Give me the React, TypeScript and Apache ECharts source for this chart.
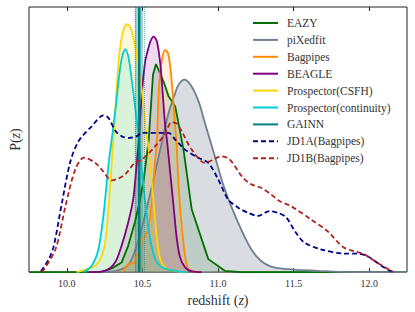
import React, { useEffect, useRef } from "react";
import * as echarts from "echarts";

const X_MIN = 9.75;
const X_MAX = 12.25;
const TICKS = [10.0, 10.5, 11.0, 11.5, 12.0];

const EAZY: number[][] = [
  [9.75, 0], [10.231, 0.001], [10.301, 0.015], [10.362, 0.036], [10.406, 0.099], [10.45, 0.187],
  [10.478, 0.256], [10.509, 0.35], [10.542, 0.5], [10.57, 0.744], [10.59, 0.785], [10.64, 0.719],
  [10.673, 0.663], [10.717, 0.625], [10.772, 0.462], [10.826, 0.237], [10.936, 0.049],
  [11.045, 0.005], [11.154, 0], [12.25, 0],
];

const PIXEDFIT: number[][] = [
  [10.236, 0], [10.334, 0.006], [10.411, 0.03], [10.476, 0.124], [10.542, 0.274], [10.608, 0.437],
  [10.673, 0.6], [10.717, 0.676], [10.739, 0.707], [10.778, 0.726], [10.813, 0.711], [10.848, 0.676],
  [10.879, 0.632], [10.913, 0.563], [10.979, 0.437], [11.045, 0.312], [11.133, 0.187], [11.22, 0.086],
  [11.285, 0.042], [11.351, 0.021], [11.461, 0.011], [11.657, 0.005], [11.876, 0], [12.25, 0],
];

const BAGPIPES: number[][] = [
  [10.367, 0], [10.388, 0.018], [10.411, 0.03], [10.444, 0.036], [10.476, 0.086], [10.498, 0.124],
  [10.52, 0.136], [10.542, 0.174], [10.564, 0.274], [10.585, 0.425], [10.596, 0.5], [10.603, 0.613],
  [10.61, 0.7], [10.629, 0.801], [10.651, 0.838], [10.669, 0.826], [10.684, 0.776], [10.7, 0.676],
  [10.717, 0.55], [10.728, 0.462], [10.739, 0.324], [10.76, 0.174], [10.782, 0.061], [10.804, 0.011],
  [10.848, 0.002], [10.892, 0],
];

const BEAGLE: number[][] = [
  [10.144, 0], [10.253, 0.005], [10.319, 0.036], [10.362, 0.099], [10.406, 0.187], [10.439, 0.274],
  [10.459, 0.387], [10.476, 0.5], [10.498, 0.688], [10.518, 0.793], [10.531, 0.826], [10.553, 0.87],
  [10.575, 0.888], [10.596, 0.87], [10.618, 0.788], [10.634, 0.676], [10.651, 0.55], [10.662, 0.5],
  [10.684, 0.375], [10.706, 0.249], [10.728, 0.124], [10.749, 0.056], [10.782, 0.018], [10.826, 0.003],
  [10.892, 0],
];

const PROSPECTOR_CSFH: number[][] = [
  [10.065, 0], [10.188, 0.024], [10.231, 0.061], [10.257, 0.124], [10.28, 0.274], [10.301, 0.444],
  [10.323, 0.632], [10.341, 0.782], [10.36, 0.876], [10.38, 0.921], [10.4, 0.935], [10.419, 0.925],
  [10.439, 0.887], [10.459, 0.831], [10.478, 0.756], [10.498, 0.677], [10.52, 0.55], [10.542, 0.462],
  [10.575, 0.256], [10.596, 0.124], [10.618, 0.05], [10.651, 0.017], [10.717, 0.005], [10.793, 0],
];

const PROSPECTOR_CONT: number[][] = [
  [10.111, 0], [10.165, 0.024], [10.209, 0.086], [10.242, 0.212], [10.275, 0.4], [10.308, 0.55],
  [10.329, 0.65], [10.347, 0.744], [10.367, 0.816], [10.388, 0.841], [10.411, 0.801], [10.432, 0.713],
  [10.454, 0.613], [10.476, 0.508], [10.498, 0.375], [10.52, 0.256], [10.552, 0.124], [10.585, 0.049],
  [10.629, 0.018], [10.717, 0.005], [10.793, 0],
];

const GAINN_MEDIAN = 10.479;
const GAINN_LO = 10.45;
const GAINN_HI = 10.505;

const JD1A: number[][] = [
  [9.829, 0.003], [9.881, 0.049], [9.914, 0.099], [9.968, 0.262], [10.024, 0.418], [10.078, 0.494],
  [10.165, 0.55], [10.242, 0.591], [10.275, 0.582], [10.323, 0.531], [10.367, 0.511], [10.411, 0.506],
  [10.461, 0.512], [10.498, 0.525], [10.608, 0.525], [10.673, 0.525], [10.717, 0.5], [10.782, 0.462],
  [10.87, 0.431], [10.936, 0.412], [11.001, 0.35], [11.067, 0.274], [11.133, 0.243], [11.198, 0.224],
  [11.264, 0.212], [11.34, 0.23], [11.395, 0.224], [11.45, 0.207], [11.515, 0.149], [11.57, 0.112],
  [11.679, 0.086], [11.832, 0.07], [11.92, 0.07], [11.986, 0.061], [12.051, 0.036], [12.117, 0.011],
  [12.16, 0],
];

const JD1B: number[][] = [
  [9.837, 0], [9.925, 0.086], [9.991, 0.249], [10.056, 0.387], [10.114, 0.432], [10.188, 0.412],
  [10.236, 0.383], [10.297, 0.346], [10.341, 0.353], [10.385, 0.368], [10.45, 0.412], [10.498, 0.425],
  [10.585, 0.475], [10.642, 0.515], [10.695, 0.565], [10.728, 0.56], [10.76, 0.531], [10.826, 0.462],
  [10.913, 0.412], [10.957, 0.421], [11.023, 0.437], [11.077, 0.425], [11.165, 0.356], [11.22, 0.331],
  [11.285, 0.318], [11.351, 0.293], [11.406, 0.268], [11.482, 0.249], [11.614, 0.199], [11.723, 0.155],
  [11.832, 0.093], [11.963, 0.068], [12.051, 0.036], [12.16, 0],
];

const LEGEND_NAMES = [
  "EAZY", "piXedfit", "Bagpipes", "BEAGLE", "Prospector(CSFH)", "Prospector(continuity)",
  "GAINN", "JD1A(Bagpipes)", "JD1B(Bagpipes)",
];

const FONT = "Liberation Serif";

function hexA(hex: string, a: number) {
  const n = parseInt(hex.slice(1), 16);
  return `rgba(${(n >> 16) & 255},${(n >> 8) & 255},${n & 255},${a})`;
}

function filled(name: string, data: number[][], color: string, alpha: number, smooth: number | boolean) {
  return {
    name,
    type: "line",
    data,
    showSymbol: false,
    symbol: "none",
    smooth,
    lineStyle: { color, width: 1.8 },
    itemStyle: { color },
    areaStyle: { color: hexA(color, alpha) },
  };
}

function dashed(name: string, data: number[][], color: string) {
  return {
    name,
    type: "line",
    data,
    showSymbol: false,
    symbol: "none",
    smooth: 0.3,
    lineStyle: { color, width: 1.8, type: [5, 3] },
    itemStyle: { color },
  };
}

export default function App() {
  const ref = useRef<HTMLDivElement>(null);
  useEffect(() => {
    const chart = echarts.init(ref.current!, null, { renderer: "svg" });
    const teal = "#008080";
    chart.setOption({
      animation: false,
      backgroundColor: "#ffffff",
      grid: { left: 26, right: 8, top: 7, bottom: 39, show: true, borderColor: "#222", borderWidth: 1 },
      legend: {
        orient: "vertical",
        left: 252,
        top: 17,
        padding: 0,
        itemWidth: 25,
        itemHeight: 12,
        itemGap: 4.9,
        itemStyle: { color: "rgba(0,0,0,0)", borderColor: "rgba(0,0,0,0)", borderWidth: 0, opacity: 0 },
        textStyle: { fontFamily: FONT, fontSize: 11.5, color: "#333", padding: [0, 0, 0, 4] },
        data: LEGEND_NAMES,
      },
      xAxis: [
        {
          type: "value",
          min: X_MIN,
          max: X_MAX,
          position: "bottom",
          axisLine: { show: false },
          splitLine: { show: false },
          axisTick: { show: true, inside: true, length: 4, customValues: TICKS, lineStyle: { color: "#222" } },
          axisLabel: {
            customValues: TICKS,
            formatter: (v: number) => v.toFixed(1),
            fontFamily: FONT,
            fontSize: 10,
            color: "#333",
            margin: 6,
          },
          name: "{a|redshift (}{b|z}{a|)}",
          nameLocation: "middle",
          nameGap: 13,
          nameTextStyle: {
            rich: {
              a: { fontFamily: FONT, fontSize: 14, color: "#333" },
              b: { fontFamily: FONT, fontSize: 14, color: "#333", fontStyle: "italic" },
            },
          },
        },
        {
          type: "value",
          min: X_MIN,
          max: X_MAX,
          position: "top",
          axisLine: { show: false },
          splitLine: { show: false },
          axisTick: { show: true, inside: true, length: 4, customValues: TICKS, lineStyle: { color: "#222" } },
          axisLabel: { show: false },
        },
      ],
      yAxis: {
        type: "value",
        min: 0,
        max: 1,
        axisLine: { show: false },
        axisTick: { show: false },
        axisLabel: { show: false },
        splitLine: { show: false },
        name: "{a|P(}{b|z}{a|)}",
        nameLocation: "middle",
        nameRotate: 90,
        nameGap: 7,
        nameTextStyle: {
          rich: {
            a: { fontFamily: FONT, fontSize: 14, color: "#333" },
            b: { fontFamily: FONT, fontSize: 14, color: "#333", fontStyle: "italic" },
          },
        },
      },
      series: [
        filled("EAZY", EAZY, "#007000", 0.2, false),
        filled("piXedfit", PIXEDFIT, "#708090", 0.38, 0.3),
        filled("Bagpipes", BAGPIPES, "#ff8c00", 0.2, 0.3),
        filled("BEAGLE", BEAGLE, "#800080", 0.2, 0.3),
        filled("Prospector(CSFH)", PROSPECTOR_CSFH, "#ffd700", 0.2, 0.3),
        filled("Prospector(continuity)", PROSPECTOR_CONT, "#00ced1", 0.2, 0.3),
        {
          name: "GAINN",
          type: "line",
          data: [[GAINN_MEDIAN, 0], [GAINN_MEDIAN, 1]],
          showSymbol: false,
          symbol: "none",
          lineStyle: { color: teal, width: 2.5 },
          itemStyle: { color: teal },
          markArea: {
            silent: true,
            itemStyle: { color: hexA(teal, 0.35) },
            data: [[{ xAxis: GAINN_LO }, { xAxis: GAINN_HI }]],
          },
          markLine: {
            silent: true,
            symbol: "none",
            label: { show: false },
            lineStyle: { color: hexA(teal, 0.6), width: 1, type: "dotted" },
            data: [{ xAxis: GAINN_LO }, { xAxis: GAINN_HI }],
          },
        },
        dashed("JD1A(Bagpipes)", JD1A, "#00008b"),
        dashed("JD1B(Bagpipes)", JD1B, "#b22222"),
      ],
    });
    return () => chart.dispose();
  }, []);
  return <div ref={ref} style={{ position: "absolute", left: 0, top: 0, width: 415, height: 312 }} />;
}
